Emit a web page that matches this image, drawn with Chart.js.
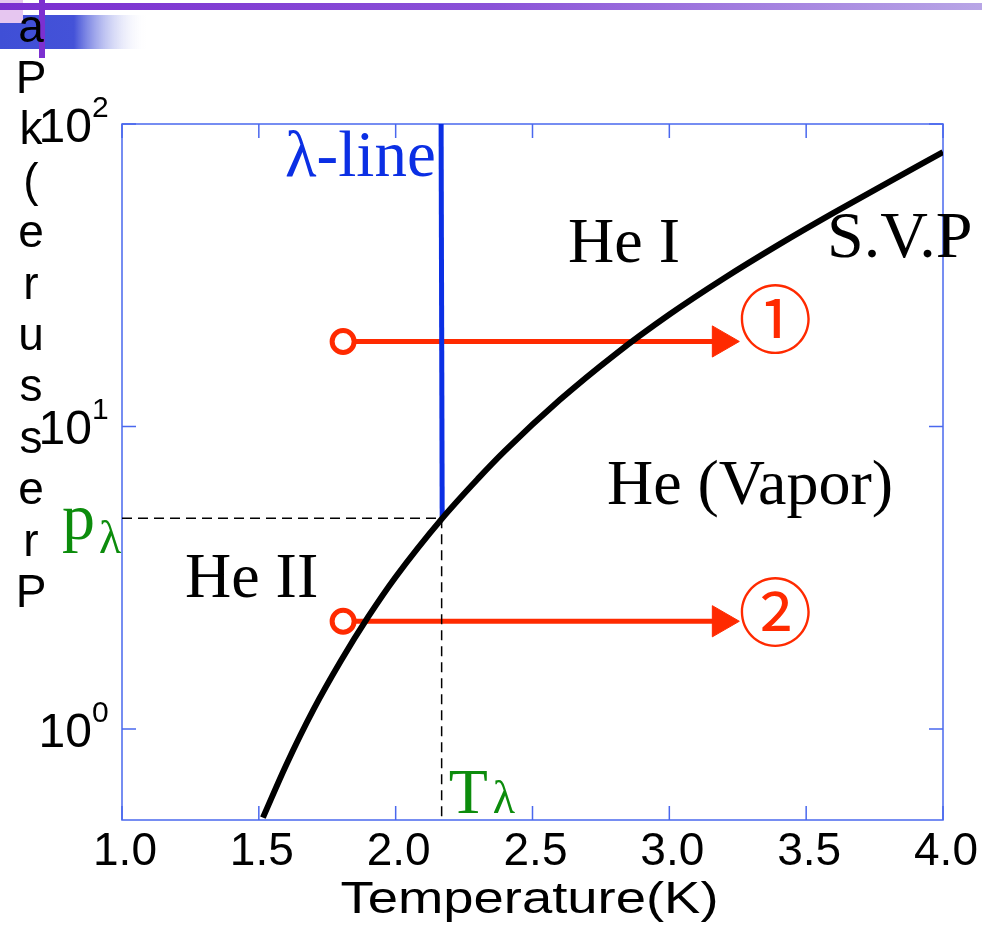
<!DOCTYPE html>
<html>
<head>
<meta charset="utf-8">
<script src="https://cdn.jsdelivr.net/npm/chart.js@4.4.0/dist/chart.umd.min.js"></script>
<style>
  html, body { margin: 0; padding: 0; background: #fff; }
  #wrap { width: 982px; height: 925px; }
</style>
</head>
<body>
<div id="wrap"><canvas id="phaseChart" width="982" height="925"></canvas></div>
<script>
// He-4 saturated vapour pressure (kPa) vs temperature (K)
const svpTemp  = [1.515, 1.6, 1.7, 1.8, 1.9, 2.0, 2.17, 2.3, 2.4, 2.6, 2.8, 3.0, 3.2, 3.4, 3.6, 3.8, 4.0];
const svpPress = [0.509, 0.76, 1.16, 1.68, 2.35, 3.18, 4.97, 6.71, 8.32, 12.25, 17.26, 23.44, 30.9, 39.9, 50.8, 64.1, 80.7];

// lambda line (nearly vertical) and the lambda point
const lambdaTemp  = [2.166, 2.170];
const lambdaPress = [100, 4.97];
const lambdaPoint = { t: 2.168, p: 4.97 };

// the two process arrows: start temperature, end temperature, pressures
const arrowStartT = 1.808;
const arrowEndT   = 3.19;
const arrowPress  = [19.1, 2.27];
const arrowMarks  = ['①', '②'];

// axes
const xMin = 1.0, xMax = 4.0;
const yMin = 0.5, yMax = 100;
const xTicks = [1.0, 1.5, 2.0, 2.5, 3.0, 3.5, 4.0];
const xTickLabels = ['1.0', '1.5', '2.0', '2.5', '3.0', '3.5', '4.0'];
const yTicks = [1, 10, 100];
const yTickExps = ['0', '1', '2'];
const xTitle = 'Temperature(K)';
const yTitle = 'Pressure(kPa)';

const red = '#ff2a00';
const blue = '#0b2fe4';
const green = '#0c8c0c';
const frameBlue = '#4a68ee';

// text labels placed in data coordinates (left edge, baseline)
const regionLabels = [
  { text: 'λ-line',     t: 1.596, p: 67.4, color: blue, size: 65 },
  { text: 'He I',       t: 2.630, p: 35.0, color: '#000', size: 64 },
  { text: 'S.V.P',      t: 3.576, p: 36.4, color: '#000', size: 66 },
  { text: 'He (Vapor)', t: 2.772, p: 5.53, color: '#000', size: 64 },
  { text: 'He II',      t: 1.230, p: 2.73, color: '#000', size: 64 }
];

const serif = '"Liberation Serif", "Times New Roman", serif';
const sans = '"Liberation Sans", Arial, sans-serif';

const chartDecor = {
  id: 'chartDecor',
  beforeDraw(chart) {
    // slide template header
    const ctx = chart.ctx;
    ctx.save();
    let g = ctx.createLinearGradient(0, 0, 148, 0);
    g.addColorStop(0, '#3f4fd6');
    g.addColorStop(0.5, '#4452d8');
    g.addColorStop(1, 'rgba(255,255,255,0)');
    ctx.fillStyle = g;
    ctx.fillRect(0, 15, 148, 34);
    ctx.fillStyle = '#e6c6f0';
    ctx.fillRect(0, 0, 23, 23);
    g = ctx.createLinearGradient(0, 0, 982, 0);
    g.addColorStop(0, '#7a2ed0');
    g.addColorStop(0.5, '#8a52d8');
    g.addColorStop(1, '#b8a6e6');
    ctx.fillStyle = g;
    ctx.fillRect(0, 3, 982, 7);
    ctx.fillStyle = '#7c30d0';
    ctx.fillRect(39, 0, 6, 58);
    ctx.restore();
  },
  beforeDatasetsDraw(chart) {
    const { ctx, chartArea: { left, top, right, bottom }, scales: { x, y } } = chart;
    ctx.save();
    ctx.strokeStyle = frameBlue;
    ctx.lineWidth = 1.5;
    ctx.strokeRect(left, top, right - left, bottom - top);
    ctx.beginPath();
    xTicks.forEach(v => {
      const px = x.getPixelForValue(v);
      ctx.moveTo(px, bottom); ctx.lineTo(px, bottom - 14);
      ctx.moveTo(px, top); ctx.lineTo(px, top + 14);
    });
    yTicks.forEach(v => {
      const py = y.getPixelForValue(v);
      ctx.moveTo(left, py); ctx.lineTo(left + 14, py);
      ctx.moveTo(right, py); ctx.lineTo(right - 14, py);
    });
    ctx.stroke();
    ctx.restore();
  },
  afterDraw(chart) {
    const { ctx, chartArea: { left, right, bottom }, scales: { x, y } } = chart;
    ctx.save();
    ctx.fillStyle = '#000';

    // x tick labels
    ctx.font = '46px ' + sans;
    ctx.textAlign = 'center';
    ctx.textBaseline = 'alphabetic';
    xTicks.forEach((v, i) => {
      ctx.fillText(xTickLabels[i], x.getPixelForValue(v) + 3, bottom + 45);
    });

    // y tick labels 10^n
    yTicks.forEach((v, i) => {
      const py = y.getPixelForValue(v);
      ctx.font = '48px ' + sans;
      ctx.textAlign = 'right';
      ctx.fillText('10', 92, py + 18);
      ctx.font = '30px ' + sans;
      ctx.textAlign = 'left';
      ctx.fillText(yTickExps[i], 92, py - 7);
    });

    // x title, stretched to the width it has in the picture
    ctx.font = '44px ' + sans;
    ctx.textAlign = 'left';
    const w = ctx.measureText(xTitle).width;
    const target = 378;
    ctx.save();
    ctx.translate((left + right) / 2 - 3 - target / 2, 913);
    ctx.scale(target / w, 1);
    ctx.fillText(xTitle, 0, 0);
    ctx.restore();

    // y title: upright letters stacked bottom-to-top
    ctx.font = '46px ' + sans;
    ctx.textAlign = 'center';
    [...yTitle].forEach((ch, i) => {
      ctx.fillText(ch, 31, 607 - i * 51.4);
    });

    // region labels
    ctx.textAlign = 'left';
    regionLabels.forEach(l => {
      ctx.font = l.size + 'px ' + serif;
      ctx.fillStyle = l.color;
      ctx.fillText(l.text, x.getPixelForValue(l.t), y.getPixelForValue(l.p));
    });

    // p_lambda and T_lambda in green
    ctx.fillStyle = green;
    const pyL = y.getPixelForValue(lambdaPoint.p);
    const pxL = x.getPixelForValue(lambdaPoint.t);
    ctx.font = '66px ' + serif;
    ctx.fillText('p', 62, pyL + 21);
    ctx.font = '46px ' + serif;
    ctx.fillText('λ', 99, pyL + 35);
    ctx.font = '64px ' + serif;
    ctx.fillText('T', pxL + 7, bottom - 7);
    ctx.font = '46px ' + serif;
    ctx.fillText('λ', pxL + 51, bottom - 7);

    // circled numbers at the arrow heads
    ctx.fillStyle = red;
    ctx.font = '74px "Noto Sans CJK JP", "DejaVu Sans", sans-serif';
    ctx.textAlign = 'center';
    ctx.textBaseline = 'middle';
    arrowPress.forEach((p, i) => {
      ctx.fillText(arrowMarks[i], x.getPixelForValue(arrowEndT) + 54, y.getPixelForValue(p) - 23 + i * 14);
    });
    ctx.restore();
  }
};

function arrowDataset(p) {
  return {
    data: [{ x: arrowStartT, y: p }, { x: arrowEndT, y: p }],
    borderColor: red,
    borderWidth: 5,
    tension: 0,
    pointStyle: ['circle', 'triangle'],
    pointRadius: [11, 18],
    pointRotation: [0, 90],
    pointBackgroundColor: ['#ffffff', red],
    pointBorderColor: red,
    pointBorderWidth: [5, 1]
  };
}

new Chart(document.getElementById('phaseChart'), {
  type: 'line',
  data: {
    datasets: [
      {
        label: 'S.V.P',
        data: svpTemp.map((t, i) => ({ x: t, y: svpPress[i] })),
        borderColor: '#000',
        borderWidth: 6,
        pointRadius: 0,
        cubicInterpolationMode: 'monotone'
      },
      {
        label: 'lambda line',
        data: lambdaTemp.map((t, i) => ({ x: t, y: lambdaPress[i] })),
        borderColor: blue,
        borderWidth: 5,
        pointRadius: 0
      },
      {
        label: 'p lambda',
        data: [{ x: xMin, y: lambdaPoint.p }, { x: lambdaPoint.t, y: lambdaPoint.p }],
        borderColor: '#000',
        borderWidth: 1.5,
        borderDash: [10, 6],
        pointRadius: 0
      },
      {
        label: 'T lambda',
        data: [{ x: lambdaPoint.t, y: lambdaPoint.p }, { x: lambdaPoint.t, y: yMin }],
        borderColor: '#000',
        borderWidth: 1.5,
        borderDash: [10, 6],
        pointRadius: 0
      },
      arrowDataset(arrowPress[0]),
      arrowDataset(arrowPress[1])
    ]
  },
  options: {
    responsive: false,
    animation: false,
    devicePixelRatio: 1,
    layout: { padding: { left: 122, top: 124, right: 39, bottom: 105 } },
    scales: {
      x: { type: 'linear', min: xMin, max: xMax, display: false },
      y: { type: 'logarithmic', min: yMin, max: yMax, display: false }
    },
    plugins: {
      legend: { display: false },
      tooltip: { enabled: false }
    }
  },
  plugins: [chartDecor]
});
</script>
</body>
</html>
